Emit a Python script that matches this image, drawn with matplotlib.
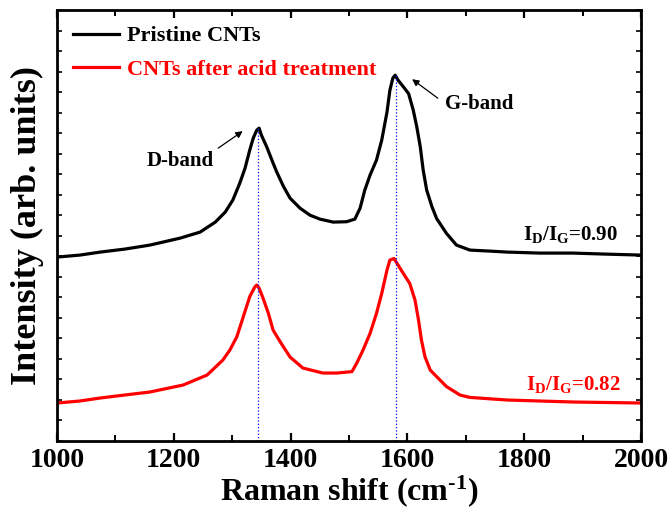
import matplotlib
matplotlib.use('Agg')
import matplotlib.pyplot as plt
from matplotlib.ticker import MultipleLocator
import numpy as np

plt.rcParams['font.family'] = 'Liberation Serif'
plt.rcParams['font.weight'] = 'bold'
plt.rcParams['axes.labelweight'] = 'bold'
plt.rcParams['mathtext.fontset'] = 'custom'
plt.rcParams['mathtext.rm'] = 'Liberation Serif:bold'
plt.rcParams['mathtext.bf'] = 'Liberation Serif:bold'
plt.rcParams['mathtext.it'] = 'Liberation Serif:bold'

# Raman shift (cm-1) and intensity (arb. units)
shift_pristine = [1000, 1039, 1074, 1116, 1159, 1211, 1245, 1271, 1288, 1301,
                  1313, 1322, 1330, 1336, 1342, 1346, 1350, 1359, 1368, 1376,
                  1388, 1399, 1416, 1433, 1450, 1473, 1496, 1510, 1519, 1527,
                  1536, 1547, 1556, 1565, 1570, 1575, 1579, 1584, 1593, 1602,
                  1610, 1616, 1622, 1627, 1633, 1642, 1650, 1667, 1684, 1707,
                  1741, 1771, 1827, 1884, 1938, 2000]
int_pristine = [920, 930, 945, 960, 980, 1015, 1045, 1095, 1145, 1205,
                1290, 1365, 1455, 1515, 1555, 1565, 1530, 1472, 1405, 1347,
                1272, 1215, 1165, 1130, 1110, 1095, 1097, 1110, 1165, 1255,
                1330, 1405, 1505, 1645, 1755, 1815, 1830, 1805, 1772, 1738,
                1655, 1572, 1472, 1355, 1255, 1172, 1113, 1038, 980, 955,
                950, 945, 940, 940, 935, 930]

shift_acid = [1000, 1039, 1074, 1116, 1159, 1216, 1257, 1284, 1296, 1308,
              1319, 1330, 1339, 1342, 1346, 1353, 1362, 1370, 1382, 1399,
              1421, 1455, 1479, 1505, 1513, 1524, 1536, 1547, 1556, 1565,
              1570, 1577, 1584, 1593, 1604, 1613, 1619, 1624, 1630, 1639,
              1650, 1667, 1690, 1707, 1771, 1884, 2000]
int_acid = [190, 200, 215, 230, 245, 280, 330, 405, 455, 522,
            622, 722, 772, 780, 765, 713, 638, 555, 497, 420,
            365, 340, 340, 347, 388, 455, 538, 638, 738, 855,
            905, 913, 880, 838, 788, 705, 605, 505, 422, 355,
            322, 272, 230, 218, 205, 195, 190]

d_band = 1345
g_band = 1580
ratio_pristine = 0.90
ratio_acid = 0.82

fig = plt.figure(figsize=(6.69, 5.11), dpi=100)
ax = fig.add_axes([0.0852, 0.137, 0.873, 0.843])

ax.plot(shift_pristine, int_pristine, color='black', linewidth=2.3,
        solid_joinstyle='round', label='Pristine CNTs')
ax.plot(shift_acid, int_acid, color='red', linewidth=2.3,
        solid_joinstyle='round', label='CNTs after acid treatment')

# dotted guide lines at the band positions
ax.plot([d_band, d_band], [0, 1565], color='blue', linestyle=':', linewidth=0.9)
ax.plot([g_band, g_band], [0, 1830], color='blue', linestyle=':', linewidth=0.9)

arrow = dict(arrowstyle='-|>', color='black', lw=0.9, shrinkA=0, shrinkB=0,
             mutation_scale=10)
ax.annotate('', xy=(1318, 1550), xytext=(1276, 1465), arrowprops=arrow)
ax.text(1211, 1400, 'D-band', fontsize=15, ha='center', va='center')
ax.annotate('', xy=(1608, 1810), xytext=(1652, 1715), arrowprops=arrow)
ax.text(1723, 1685, 'G-band', fontsize=15, ha='center', va='center')

ax.text(1880, 980, r'$\mathregular{I_D/I_G}$=%.2f' % ratio_pristine,
        fontsize=15, ha='center', va='bottom', color='black')
ax.text(1885, 230, r'$\mathregular{I_D/I_G}$=%.2f' % ratio_acid,
        fontsize=15, ha='center', va='bottom', color='red')

ax.set_xlim(1000, 2000)
ax.set_ylim(0, 2155)
ax.xaxis.set_major_locator(MultipleLocator(200))
ax.xaxis.set_minor_locator(MultipleLocator(100))
ax.yaxis.set_major_locator(MultipleLocator(2155 / 21))
ax.tick_params(axis='x', which='major', direction='in', length=6, width=1.6,
               top=True, labelsize=20, pad=5)
ax.tick_params(axis='x', which='minor', direction='in', length=4, width=1.4, top=True)
ax.tick_params(axis='y', which='major', direction='in', length=3.5, width=1.2,
               right=True, labelleft=False)
for s in ax.spines.values():
    s.set_linewidth(2)

ax.set_xlabel(r'Raman shift (cm$^{\text{-1}}$)', fontsize=23, labelpad=0)
ax.set_ylabel('Intensity (arb. units)', fontsize=26, labelpad=9)

leg = ax.legend(loc='upper left', frameon=False, fontsize=16, handlelength=2.1,
                handletextpad=0.35, labelspacing=0.6, borderaxespad=0.3,
                bbox_to_anchor=(0.0, 1.0))
for txt, line in zip(leg.get_texts(), leg.get_lines()):
    txt.set_color(line.get_color())
    line.set_linewidth(2.3)

fig.savefig('out.png', dpi=100)
